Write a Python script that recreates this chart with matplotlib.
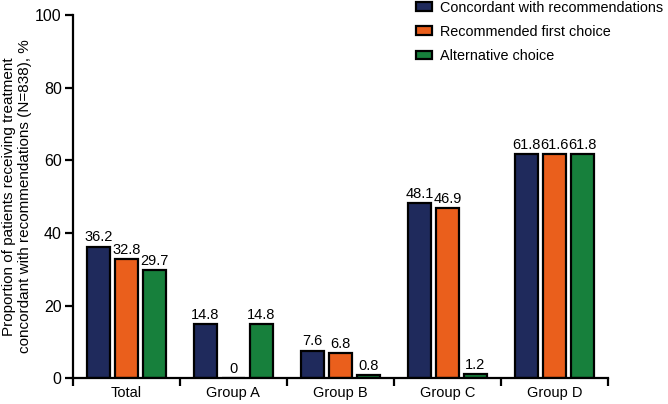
import numpy as np
import matplotlib.pyplot as plt

plt.rcParams['font.family'] = ['Liberation Sans', 'DejaVu Sans']

groups = ['Total', 'Group A', 'Group B', 'Group C', 'Group D']
concordant = [36.2, 14.8, 7.6, 48.1, 61.8]
first_choice = [32.8, 0, 6.8, 46.9, 61.6]
alternative = [29.7, 14.8, 0.8, 1.2, 61.8]
series = ['Concordant with recommendations', 'Recommended first choice', 'Alternative choice']
colors = ['#1f2a5c', '#ea5f1c', '#17803c']

fig = plt.figure(figsize=(6.68, 4.04), dpi=100)
ax = fig.add_axes([0.109, 0.064, 0.801, 0.899])

x = np.arange(len(groups))
width = 0.215
step = 0.262
for i, (vals, name, c) in enumerate(zip([concordant, first_choice, alternative], series, colors)):
    pos = x + (i - 1) * step
    bars = ax.bar(pos, vals, width, color=c, edgecolor='black', linewidth=1.6, label=name)
    for b, v in zip(bars, vals):
        lbl = '0' if v == 0 else f'{v}'
        ax.text(b.get_x() + b.get_width() / 2, v + 0.6, lbl, ha='center', va='bottom', fontsize=10.5)

ax.set_xlim(-0.5, len(groups) - 0.5)
ax.set_ylim(0, 100)
ax.set_yticks([0, 20, 40, 60, 80, 100])
ax.tick_params(axis='y', labelsize=11.5, width=1.6, length=6, direction='out', pad=2)

ax.set_xticks(np.arange(len(groups) + 1) - 0.5)
ax.set_xticklabels([])
ax.set_xticks(x, minor=True)
ax.set_xticklabels(groups, minor=True)
ax.tick_params(axis='x', which='major', width=1.6, length=6)
ax.tick_params(axis='x', which='minor', length=0, labelsize=10.5, pad=6)

for s in ['top', 'right']:
    ax.spines[s].set_visible(False)
for s in ['left', 'bottom']:
    ax.spines[s].set_linewidth(1.6)

ax.set_ylabel('Proportion of patients receiving treatment\nconcordant with recommendations (N=838), %',
              fontsize=11, labelpad=2)

leg = ax.legend(loc='upper left', bbox_to_anchor=(0.63, 1.055), frameon=False, fontsize=10.4,
                handlelength=1.15, handleheight=0.55, handletextpad=0.5, labelspacing=0.7,
                borderaxespad=0)

fig.savefig('out.png', dpi=100)
